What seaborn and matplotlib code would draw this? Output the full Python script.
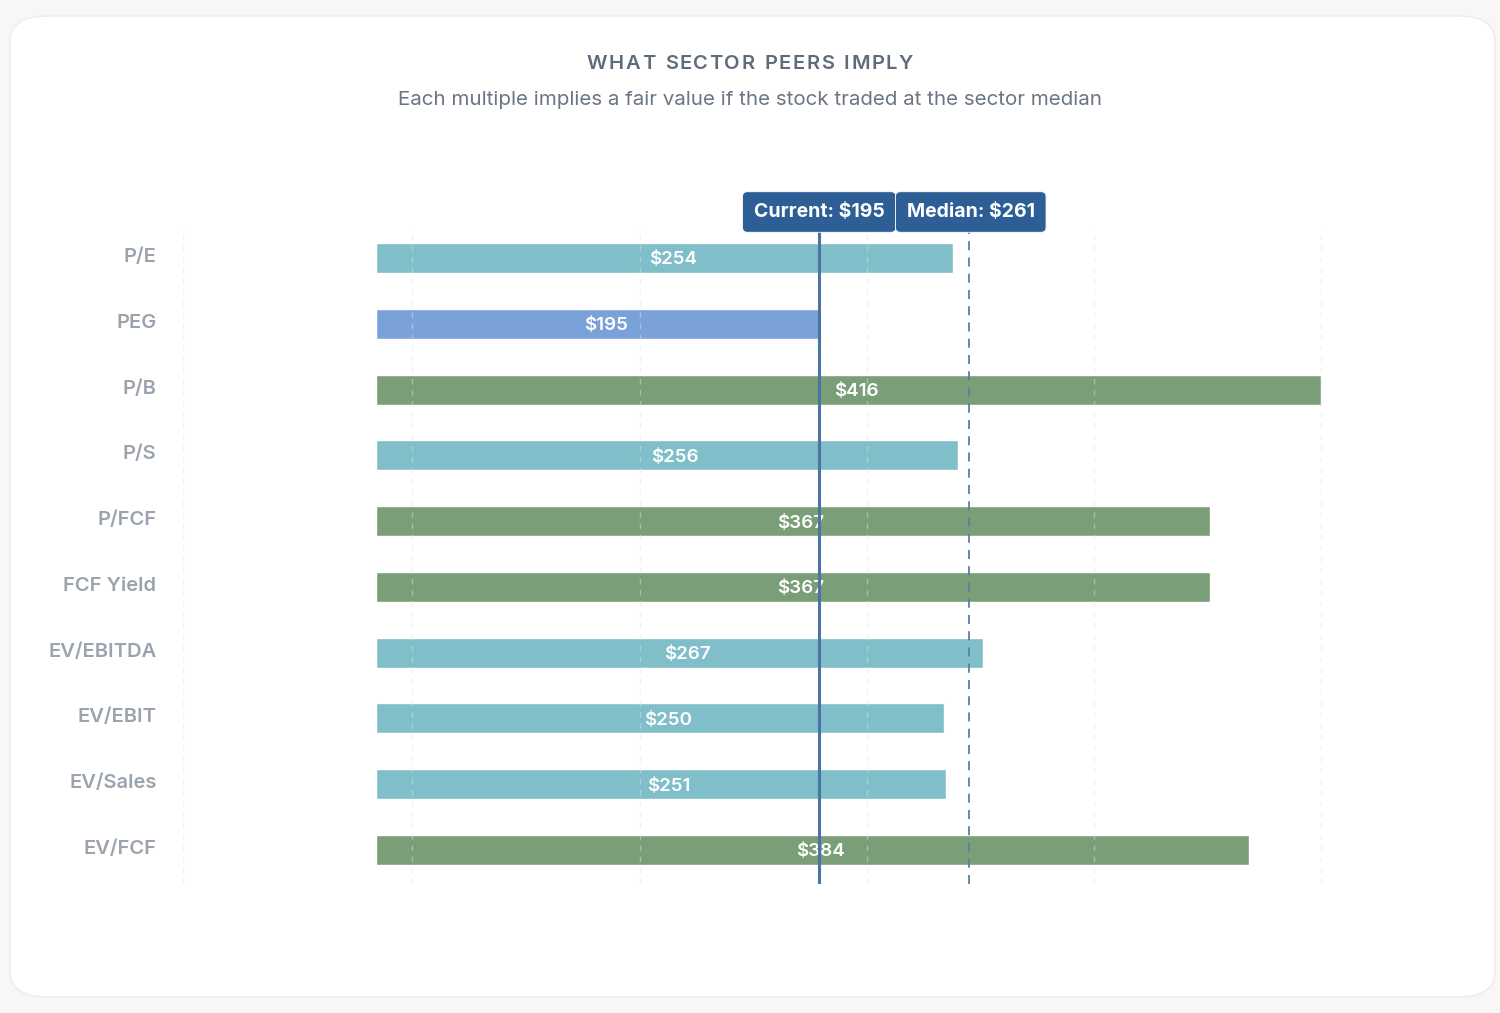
import matplotlib
matplotlib.use("Agg")
import matplotlib.pyplot as plt
from matplotlib.patches import FancyBboxPatch
from matplotlib.transforms import ScaledTranslation
import seaborn as sns
import pandas as pd

# --- DATA ---
metrics = ["P/E", "PEG", "P/B", "P/S", "P/FCF", "FCF Yield", "EV/EBITDA", "EV/EBIT", "EV/Sales", "EV/FCF"]
implied = [254, 195, 416, 256, 367, 367, 267, 250, 251, 384]
current_price = 195
median_price = 261
grid_ticks = [16, 116, 216, 316, 416]

TEAL, BLUE, GREEN = "#80bfc9", "#7aa2d8", "#7a9e78"

def bar_color(v):
    if v == current_price:
        return BLUE
    if v > median_price * 1.2:
        return GREEN
    return TEAL

df = pd.DataFrame({"metric": metrics, "value": implied})
palette = {m: bar_color(v) for m, v in zip(metrics, implied)}

# --- FIGURE ---
sns.set_theme(style="white")
plt.rcParams["font.family"] = ["Inter", "DejaVu Sans"]

W, H = 1500, 1013
fig = plt.figure(figsize=(W / 100, H / 100), dpi=100)
fig.patch.set_facecolor("#f7f7f8")

# card (behind everything)
card = FancyBboxPatch((10 / W, 16 / H), 1485 / W, 981 / H,
                      boxstyle="round,pad=0,rounding_size=0.025",
                      transform=fig.transFigure, facecolor="white",
                      edgecolor="#ececee", linewidth=1.0, zorder=-10)
fig.patches.append(card)

# title with letter spacing (drawn char by char)
renderer = fig.canvas.get_renderer()
title = "WHAT SECTOR PEERS IMPLY"
tkw = dict(fontsize=14.5, fontweight="semibold", color="#5f6b7a", va="center")
spacing = 1.6  # px between letters
widths = []
for ch in title:
    t = fig.text(0, 0, ch if ch != " " else "a", **tkw)
    w = t.get_window_extent(renderer).width
    if ch == " ":
        w *= 0.55
    widths.append(w)
    t.remove()
total = sum(widths) + spacing * (len(title) - 1)
xpos = W / 2 - total / 2
for ch, w in zip(title, widths):
    if ch != " ":
        fig.text(xpos / W, 1 - 64 / H, ch, ha="left", **tkw)
    xpos += w + spacing

fig.text(0.5, 1 - 100 / H, "Each multiple implies a fair value if the stock traded at the sector median",
         ha="center", va="center", fontsize=14.8, color="#6b7684")

# axes in pixel geometry
ax_left, ax_right, ax_top, ax_bot = 183, 1340, 228, 884
ax = fig.add_axes([ax_left / W, 1 - ax_bot / H, (ax_right - ax_left) / W, (ax_bot - ax_top) / H])
ax.set_facecolor("none")

px_per = (970 - 820) / (median_price - current_price)
x0 = 376
row_px = (850 - 258) / 9

sns.barplot(data=df, x="value", y="metric", hue="metric", palette=palette,
            width=30 / row_px, legend=False, ax=ax, saturation=1, zorder=2)

ax.set_xlim((ax_left - x0) / px_per, (ax_right - x0) / px_per)
ax.set_ylim(9 + (ax_bot - 850) / row_px, -(258 - ax_top) / row_px)

for s in ax.spines.values():
    s.set_visible(False)
ax.set_xticks([])
ax.set_xlabel("")
ax.set_ylabel("")
ax.tick_params(axis="y", length=0, pad=19)
lift = ScaledTranslation(0, 3 / 100, fig.dpi_scale_trans)
for lab in ax.get_yticklabels():
    lab.set_fontsize(14.5)
    lab.set_fontweight("semibold")
    lab.set_color("#9aa3ae")
    lab.set_transform(lab.get_transform() + lift)

# grid
for g in grid_ticks + [ax.get_xlim()[0] + 0.2]:
    ax.axvline(g, color="#dfe3e8", lw=1, ls=(0, (4, 4)), alpha=0.45, zorder=3)

# value labels
for i, v in enumerate(implied):
    ax.text(v / 2 + 3.5, i + 0.03, f"${v}", ha="center", va="center", color="white",
            fontsize=13.5, fontweight="semibold", zorder=4)

# reference lines
ax.axvline(median_price, color="#5a7ea8", lw=1.3, ls=(0, (5, 4)), zorder=5)
ax.axvline(current_price, color="#4a73a6", lw=2.2, zorder=6)

badge_y = -(258 - 212) / row_px
for x, txt in [(current_price, f"Current: ${current_price}"), (median_price + 0.7, f"Median: ${median_price}")]:
    ax.text(x, badge_y, txt, ha="center", va="center", color="white", fontsize=14,
            fontweight="bold", clip_on=False, zorder=7,
            bbox=dict(boxstyle="round,pad=0.58,rounding_size=0.25", fc="#2d5f96", ec="white", lw=0.6))

fig.savefig("out.png", dpi=100, facecolor=fig.get_facecolor())
